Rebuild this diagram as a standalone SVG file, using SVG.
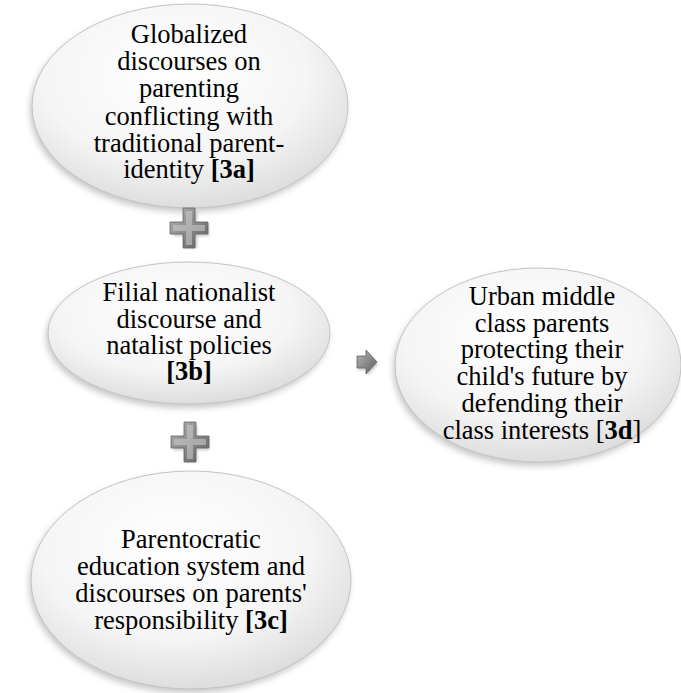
<svg xmlns="http://www.w3.org/2000/svg" width="681" height="693" viewBox="0 0 681 693">
<defs>
<radialGradient id="eg" cx="0.45" cy="0.35" r="0.7">
<stop offset="0" stop-color="#ffffff"/>
<stop offset="0.6" stop-color="#f5f5f5"/>
<stop offset="1" stop-color="#d8d8d8"/>
</radialGradient>
<linearGradient id="pg" x1="0" y1="0" x2="1" y2="1">
<stop offset="0" stop-color="#b5b5b5"/>
<stop offset="0.5" stop-color="#8a8a8a"/>
<stop offset="1" stop-color="#5e5e5e"/>
</linearGradient>
<filter id="sh" x="-10%" y="-10%" width="120%" height="125%">
<feGaussianBlur stdDeviation="3"/>
</filter>
<filter id="psh" x="-30%" y="-30%" width="160%" height="160%">
<feGaussianBlur stdDeviation="1.5"/>
</filter>
</defs>
<style>
.shadow{fill:#9a9a9a;opacity:0.55;filter:url(#sh)}
.ell{fill:url(#eg);stroke:#c4c4c4;stroke-width:1}
text{font-family:"Liberation Serif","Times New Roman",serif;font-size:26.5px;fill:#000;text-anchor:middle}
.b{font-weight:bold}
.plus{fill:url(#pg);stroke:#666;stroke-width:0.8}
.hl{fill:#c8c8c8;opacity:0.6}
.psh{fill:#888;opacity:0.5;filter:url(#psh)}
</style>
<rect width="681" height="693" fill="#fff"/>

<g id="node-3a">
<ellipse class="shadow" cx="188" cy="110" rx="158" ry="102"/>
<ellipse class="ell" cx="190" cy="106" rx="158" ry="102"/>
<text x="189" y="43">Globalized</text>
<text x="189" y="70">discourses on</text>
<text x="189" y="97">parenting</text>
<text x="189" y="125">conflicting with</text>
<text x="189" y="152">traditional parent-</text>
<text x="189" y="178">identity <tspan class="b">[3a]</tspan></text>
</g>

<g id="node-3b">
<ellipse class="shadow" cx="187" cy="337" rx="141" ry="71"/>
<ellipse class="ell" cx="189" cy="333" rx="141" ry="71"/>
<text x="189" y="301">Filial nationalist</text>
<text x="189" y="328">discourse and</text>
<text x="189" y="354">natalist policies</text>
<text x="189" y="380"><tspan class="b">[3b]</tspan></text>
</g>

<g id="node-3c">
<ellipse class="shadow" cx="189" cy="584" rx="160" ry="109"/>
<ellipse class="ell" cx="191" cy="580" rx="160" ry="109"/>
<text x="191" y="548">Parentocratic</text>
<text x="191" y="575">education system and</text>
<text x="191" y="602">discourses on parents'</text>
<text x="191" y="629">responsibility <tspan class="b">[3c]</tspan></text>
</g>

<g id="node-3d">
<ellipse class="shadow" cx="536" cy="369" rx="143" ry="97"/>
<ellipse class="ell" cx="538" cy="365" rx="143" ry="97"/>
<text x="542" y="305">Urban middle</text>
<text x="542" y="332">class parents</text>
<text x="542" y="358">protecting their</text>
<text x="542" y="385">child's future by</text>
<text x="542" y="412">defending their</text>
<text x="542" y="439">class interests [<tspan class="b">3d</tspan>]</text>
</g>

<g id="connectors">
<path class="psh" d="M184,210h12v12h12v12h-12v12h-12v-12h-12v-12h12z" transform="translate(1,2)"/>
<path class="plus" d="M183,208h12v14h13v12h-13v14h-12v-14h-13v-12h13z"/>
<path class="hl" d="M186,211h6v14h13v6h-13v14h-6v-14h-13v-6h13z"/>
<path class="psh" d="M184,424h12v12h12v12h-12v12h-12v-12h-12v-12h12z" transform="translate(1,2)"/>
<path class="plus" d="M184,422h12v14h13v12h-13v14h-12v-14h-13v-12h13z"/>
<path class="hl" d="M187,425h6v14h13v6h-13v14h-6v-14h-13v-6h13z"/>
<path class="psh" d="M357,356h9v-6l11,12l-11,12v-6h-9z" transform="translate(1,2)"/>
<path class="plus" d="M357,356h9v-6l11,12l-11,12v-6h-9z"/>
</g>
</svg>
